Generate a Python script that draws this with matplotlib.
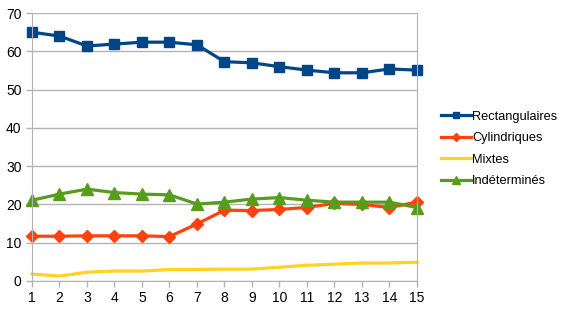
import numpy as np
import matplotlib.pyplot as plt

plt.rcParams['font.family'] = ['Liberation Sans', 'DejaVu Sans']

x = np.arange(1, 16)
rectangulaires = [65.0, 64.0, 61.4, 61.9, 62.4, 62.4, 61.7, 57.3, 57.0, 56.0, 55.1, 54.4, 54.4, 55.4, 55.1]
cylindriques = [11.7, 11.7, 11.8, 11.8, 11.8, 11.6, 14.9, 18.5, 18.4, 18.7, 19.2, 20.3, 20.0, 19.2, 20.6]
mixtes = [1.8, 1.3, 2.3, 2.6, 2.6, 3.0, 3.0, 3.1, 3.1, 3.6, 4.1, 4.4, 4.7, 4.7, 4.9]
indetermines = [21.1, 22.7, 24.0, 23.1, 22.7, 22.5, 20.1, 20.6, 21.4, 21.8, 21.1, 20.6, 20.6, 20.6, 19.2]

fig = plt.figure(figsize=(5.65, 3.27), dpi=100)
fig.set_facecolor('white')
ax = fig.add_axes([0.0566, 0.1407, 0.6814, 0.8193])

ax.plot(x, rectangulaires, color='#004586', lw=2.3, marker='s', ms=7, label='Rectangulaires')
ax.plot(x, cylindriques, color='#ff420e', lw=2.3, marker='D', ms=6, label='Cylindriques')
ax.plot(x, mixtes, color='#ffd320', lw=2.3, label='Mixtes')
ax.plot(x, indetermines, color='#579d1c', lw=2.3, marker='^', ms=8, label='Indéterminés')

ax.set_xlim(1, 15)
ax.set_ylim(0, 70)
ax.set_xticks(x)
ax.set_yticks(range(0, 71, 10))
ax.grid(axis='y', color='#b3b3b3', lw=1)
ax.set_axisbelow(True)
for s in ax.spines.values():
    s.set_color('#b3b3b3')
ax.spines['top'].set_visible(False)
ax.tick_params(colors='#b3b3b3', labelcolor='black', labelsize=10, length=4, width=1)
for m in ax.lines:
    m.set_clip_on(False)

ax.legend(loc='upper left', bbox_to_anchor=(1.05, 0.655), frameon=False, fontsize=9.2,
          handlelength=2.3, handletextpad=0.1, labelspacing=0.75, borderaxespad=0,
          markerscale=0.7)

plt.savefig('out.png', dpi=100)
